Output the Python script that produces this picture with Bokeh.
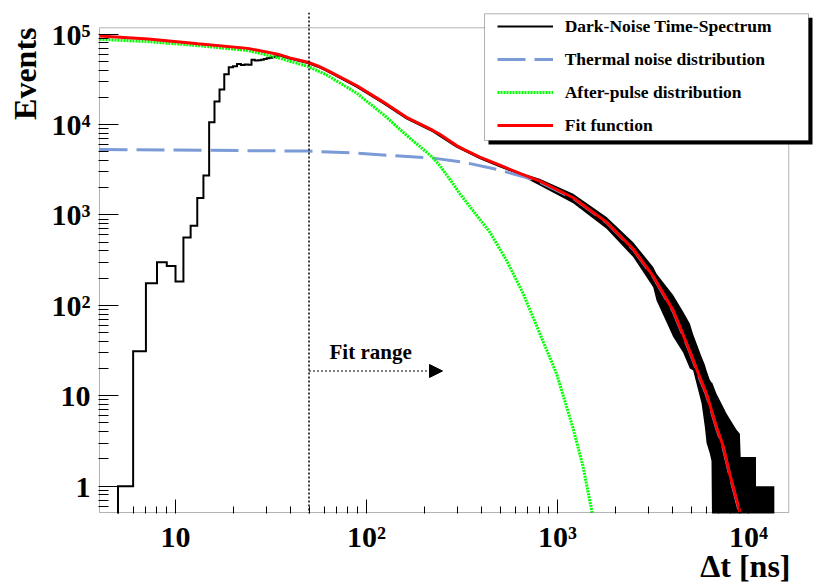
import math
from bokeh.plotting import figure
from bokeh.models import (Range1d, FixedTicker, CustomJSTickFormatter, Span, Arrow, NormalHead,
                          Label, Legend, LegendItem, BoxAnnotation, Title)
from bokeh.embed import file_html
from bokeh.resources import INLINE

# ---------------- data ----------------
# Dark-noise histogram, 1 ns bins from 4 to 36 ns
bin_edges = list(range(4, 37))
bin_counts = [0, 1, 31, 176, 300, 272, 184, 564, 760, 1535, 2730, 10600, 17950, 24400, 35950,
              43000, 44000, 46800, 45500, 46100, 45700, 51900, 51000, 51500, 52000, 53000, 54000,
              54600, 55500, 56500, 57500, 57800]
# histogram beyond 36 ns where it is a thin line
hist_t = [36, 39.7, 49.3, 55.6, 61.6, 88.7, 122, 162, 223, 296, 392, 499, 635]
hist_v = [57000, 53800, 47800, 43600, 39400, 26300, 17300, 11700, 8400, 5700, 4250, 3450, 2850]
# noisy tail of the histogram: lower / upper envelope of the bin contents
ZERO = 0.3  # empty bins (drawn at the bottom of the frame)
tail_t = [635, 807, 1208, 1806, 2490, 3170, 3300, 4030, 4550, 4930, 5130, 5680, 5910, 6030,
          6270, 6400, 6450, 6790, 7670, 8650, 9010, 9100, 10940, 10950, 13650, 13660]
tail_lo = [2750, 2120, 1350, 703, 342, 159, 113, 45, 30, 20, 19, 8.2, 4.5, 3.0,
           2.3, 1.9, ZERO, ZERO, ZERO, ZERO, ZERO, ZERO, ZERO, ZERO, ZERO, ZERO]
tail_hi = [2950, 2510, 1715, 946, 500, 265, 224, 130, 85, 63, 48, 27, 22, 19,
           15, 14, 14, 10.6, 6.35, 4.2, 3.8, 2.1, 2.1, 1.0, 1.0, ZERO]

# Fit function
fit_t = [4, 7.2, 13.1, 23.9, 34.3, 39.7, 49.3, 55.6, 61.6, 88.7, 122, 162, 223, 242, 296, 327,
         392, 499, 635, 808, 1208, 1806, 2490, 3170, 4030, 4930, 5560, 6030, 6800, 7360, 7980, 9010]
fit_v = [95000, 88500, 78000, 69500, 60000, 54600, 48800, 44500, 40200, 27000, 17800, 12000, 8600,
         7800, 5850, 5250, 4350, 3550, 2885, 2365, 1550, 833, 420, 210, 88, 31, 16, 10.5, 4.5,
         2.8, 1.35, 0.52]
# Thermal noise distribution
th_t = [4, 49.3, 88.7, 131, 223, 321, 480, 717, 808, 1208, 1806, 2490, 3170, 4030, 4930, 5560,
        6030, 6800, 7360, 7980, 9010]
th_v = [5300, 5080, 4830, 4560, 4250, 3830, 3200, 2520, 2300, 1530, 825, 415, 207, 86, 30.5, 15.5,
        10.2, 4.4, 2.7, 1.32, 0.5]
# After-pulse distribution
ap_t = [4, 7.2, 13.1, 23.9, 34.3, 39.7, 49.3, 61.6, 88.7, 122, 162, 223, 242, 296, 308, 442, 541,
        661, 808, 988, 1208, 1362, 1518]
ap_v = [87500, 82600, 74600, 65800, 55000, 50000, 44000, 35500, 22300, 13000, 7600, 4300, 3520,
        1950, 1715, 646, 314, 135, 48.7, 17.6, 4.34, 1.63, 0.51]

fit_start = 50          # ns, start of fit range
arrow_end = 250         # ns
arrow_level = 18.8      # events
legend_labels = ["Dark-Noise Time-Spectrum", "Thermal noise distribution",
                 "After-pulse distribution", "Fit function"]

# axis ticks
x_major = [10, 100, 1000, 10000]
x_minor = [5, 6, 7, 8, 9] + [m * 10 ** k for k in (1, 2, 3) for m in range(2, 10)]
y_major = [1, 10, 100, 1000, 10000, 100000]
y_minor = [0.6, 0.7, 0.8, 0.9] + [m * 10 ** k for k in (0, 1, 2, 3, 4) for m in range(2, 10)]

# visible frame (axis box) and the plotting area (a bit larger so the legend can overhang)
X_VIS = (4, 16250)
Y_VIS = (0.512, 1.174e5)
X_RANGE = (3.952, 21890)
Y_RANGE = (0.499, 1.733e5)

FONT = "'Liberation Serif', 'DejaVu Serif', serif"

# ---------------- figure ----------------
p = figure(width=830, height=583, x_axis_type="log", y_axis_type="log",
           x_range=Range1d(*X_RANGE), y_range=Range1d(*Y_RANGE),
           output_backend="svg", toolbar_location=None,
           min_border_left=98, min_border_right=17, min_border_top=12, min_border_bottom=70)
p.background_fill_color = "white"
p.border_fill_color = "white"
p.grid.visible = False
p.outline_line_color = None

fmt_code = """
const e = Math.round(Math.log10(tick));
const sup = ["\u2070","\u00b9","\u00b2","\u00b3","\u2074","\u2075","\u2076","\u2077","\u2078","\u2079"];
if (Math.abs(tick - Math.pow(10, e)) > 1e-6 * tick) return "";
if (e === 0) return "1";
if (e === 1) return "10";
return "10" + sup[e];
"""
p.xaxis.ticker = FixedTicker(ticks=x_major, minor_ticks=x_minor)
p.yaxis.ticker = FixedTicker(ticks=y_major, minor_ticks=y_minor)
for ax in (p.xaxis[0], p.yaxis[0]):
    ax.formatter = CustomJSTickFormatter(code=fmt_code)
    ax.major_label_text_font = FONT
    ax.major_label_text_font_style = "bold"
    ax.major_label_text_font_size = "30px"
    ax.major_label_text_color = "black"
    ax.axis_line_color = None
    ax.major_tick_line_color = "black"
    ax.minor_tick_line_color = "black"
    ax.major_tick_out = 0
    ax.minor_tick_out = 0
p.xaxis.major_tick_in = 14
p.xaxis.minor_tick_in = 7
p.yaxis.major_tick_in = 20
p.yaxis.minor_tick_in = 10
p.xaxis.major_label_standoff = 6
p.yaxis.major_label_standoff = 8

# axis titles
ytitle = Title(text="Events", align="right", vertical_align="top", offset=15, standoff=8,
               text_font=FONT, text_font_style="bold", text_font_size="32px", text_color="black")
xtitle = Title(text="\u0394t [ns]", align="right", vertical_align="top", offset=23, standoff=0,
               text_font=FONT, text_font_style="bold", text_font_size="32px", text_color="black")
try:
    xtitle.standoff = -16
except Exception:
    pass
p.add_layout(ytitle, "left")
p.add_layout(xtitle, "below")

# ---------------- histogram ----------------
black_x, black_y = [], []
for i, c in enumerate(bin_counts):
    v = c if c > 0 else ZERO
    black_x += [bin_edges[i], bin_edges[i + 1]]
    black_y += [v, v]
black_x += hist_t
black_y += hist_v

p.varea(x=tail_t, y1=tail_lo, y2=tail_hi, fill_color="black")
r_hist = p.line(black_x, black_y, line_color="black", line_width=2, line_join="miter")

r_th = p.line(th_t, th_v, line_color="#7b9bd6", line_width=3, line_dash="28 9")
r_ap = p.line(ap_t, ap_v, line_color="#00ff00", line_width=3, line_dash="2 1")
r_fit = p.line(fit_t, fit_v, line_color="#ff0000", line_width=3)

# visible axis box
p.add_layout(BoxAnnotation(left=X_VIS[0], right=X_VIS[1], bottom=Y_VIS[0], top=Y_VIS[1],
                           fill_alpha=0, line_color="black", line_width=1))

# ---------------- annotations ----------------
p.add_layout(Span(location=fit_start, dimension="height", line_color="black",
                  line_dash="2 2", line_width=1.5))
p.add_layout(Arrow(end=NormalHead(size=13, fill_color="black", line_color="black", line_width=1),
                   x_start=fit_start, y_start=arrow_level, x_end=arrow_end, y_end=arrow_level,
                   line_color="black", line_width=1.2, line_dash="2 2"))
p.add_layout(Label(x=64, y=30.5, text="Fit range", text_font=FONT, text_font_style="bold",
                   text_font_size="21px", text_align="left", text_baseline="alphabetic",
                   text_color="black"))

# legend box with shadow
p.add_layout(BoxAnnotation(left=390, right=714, top=495.7, bottom=369,
                           left_units="screen", right_units="screen",
                           top_units="screen", bottom_units="screen",
                           fill_color="black", fill_alpha=1, line_alpha=0))
p.add_layout(BoxAnnotation(left=386, right=710, top=499.7, bottom=373,
                           left_units="screen", right_units="screen",
                           top_units="screen", bottom_units="screen",
                           fill_color="white", fill_alpha=1, line_color="black", line_width=1))
legend = Legend(items=[LegendItem(label=legend_labels[0], renderers=[r_hist]),
                       LegendItem(label=legend_labels[1], renderers=[r_th]),
                       LegendItem(label=legend_labels[2], renderers=[r_ap]),
                       LegendItem(label=legend_labels[3], renderers=[r_fit])],
                location=(398.7, 377.3), glyph_width=56, glyph_height=20, label_height=20,
                label_width=10, spacing=12, padding=0, margin=0, label_standoff=12,
                border_line_alpha=0, background_fill_alpha=0,
                label_text_font=FONT, label_text_font_style="bold", label_text_font_size="17.5px",
                label_text_color="black")
p.add_layout(legend)

open("out.html", "w").write(file_html(p, INLINE))
